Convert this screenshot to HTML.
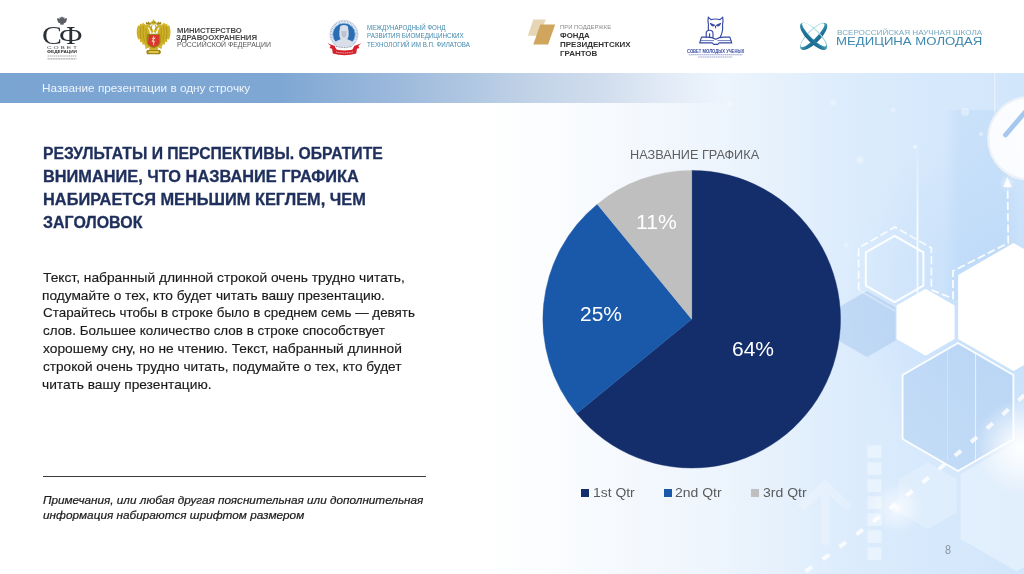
<!DOCTYPE html>
<html lang="ru"><head><meta charset="utf-8"><title>Slide 8</title>
<style>
html,body{margin:0;padding:0;background:#fff;}
body{width:1024px;height:574px;position:relative;overflow:hidden;font-family:"Liberation Sans",sans-serif;}
.t{position:absolute;white-space:nowrap;transform-origin:0 0;margin:0;padding:0;}
#bg{position:absolute;left:0;top:73px;width:1024px;height:501px;
 background:
  radial-gradient(ellipse 150px 175px at 995px 225px,rgba(186,217,249,.55) 0,rgba(190,219,249,.4) 45%,rgba(196,222,250,0) 100%),
  linear-gradient(90deg,#fff 0,#fff 480px,#fafcfe 560px,#f4f8fd 640px,#eef5fd 710px,#e8f2fc 760px,#dcecfc 850px,#d7e9fc 920px,#d2e6fb 1024px);}
#bar{position:absolute;left:0;top:73px;width:1024px;height:30px;
 background:linear-gradient(90deg,#7aa4d2 0,#7fa7d3 280px,#9dbadc 400px,#b0c7e2 470px,#c4d4e8 540px,rgba(203,217,236,.9) 600px,rgba(212,224,240,.6) 660px,rgba(225,235,247,0) 725px);}
#rule{position:absolute;left:43px;top:476px;width:383px;height:1px;background:#3a3a3a;}
svg{position:absolute;left:0;top:0;}
.lg{position:absolute;width:8px;height:8px;top:488.8px;}
</style></head><body>
<div id="bg"></div>
<!--DECOR0--><svg width="1024" height="574" viewBox="0 0 1024 574">
<defs>
<radialGradient id="fl"><stop offset="0" stop-color="#fff" stop-opacity=".95"/><stop offset=".25" stop-color="#fff" stop-opacity=".5"/><stop offset="1" stop-color="#fff" stop-opacity="0"/></radialGradient>
<linearGradient id="vl" x1="0" y1="0" x2="0" y2="1"><stop offset="0" stop-color="#fff" stop-opacity="0"/><stop offset=".5" stop-color="#fff" stop-opacity=".9"/><stop offset="1" stop-color="#fff" stop-opacity=".7"/></linearGradient>
<filter id="b1" x="-5%" y="-5%" width="110%" height="110%"><feGaussianBlur stdDeviation=".6"/></filter>
<linearGradient id="bandg" x1="0" y1="0" x2="1" y2="0"><stop offset="0" stop-color="#9fc6f3" stop-opacity="0"/><stop offset=".2" stop-color="#9fc6f3" stop-opacity=".2"/><stop offset=".8" stop-color="#9fc6f3" stop-opacity=".2"/><stop offset="1" stop-color="#9fc6f3" stop-opacity="0"/></linearGradient>
<radialGradient id="fl2"><stop offset="0" stop-color="#fff" stop-opacity=".95"/><stop offset=".35" stop-color="#fff" stop-opacity=".7"/><stop offset="1" stop-color="#fff" stop-opacity="0"/></radialGradient>
</defs>
<polygon points="1016.8,441.5 1073.1,474.0 1073.1,539.0 1016.8,571.5 960.5,539.0 960.5,474.0" fill="#fff" fill-opacity=".33"/>
<polygon points="927.8,462.3 956.8,479.1 956.8,512.5 927.8,529.3 898.8,512.5 898.8,479.1" fill="#fff" fill-opacity=".22"/>
<polygon points="867.0,291.0 895.6,307.5 895.6,340.5 867.0,357.0 838.4,340.5 838.4,307.5" fill="#a3c6ee" fill-opacity=".5"/>
<polygon points="958.0,343.0 1013.4,375.0 1013.4,439.0 958.0,471.0 902.6,439.0 902.6,375.0" fill="#a6c8ef" fill-opacity=".42" stroke="#fff" stroke-width="1.8" stroke-opacity=".95"/>
<rect x="916.6" y="140" width="1.8" height="170" fill="url(#vl)"/><rect x="944" y="110" width="76" height="190" fill="url(#bandg)"/>
<rect x="994.3" y="73" width="1" height="40" fill="#fff" fill-opacity=".6"/>
<rect x="975" y="352" width="1.1" height="108" fill="#fff" fill-opacity=".6"/><rect x="947" y="350" width="1" height="110" fill="#fff" fill-opacity=".25"/>
<polygon points="894.6,235.8 923.4,252.4 923.4,285.6 894.6,302.2 865.8,285.6 865.8,252.4" fill="none" stroke="#fff" stroke-width="2" stroke-opacity=".95"/>
<path d="M858.6 290.0 L858.6 248.0 L895.0 227.0 L931.4 248.0 L931.4 290.0" fill="none" stroke="#fff" stroke-width="1.7" stroke-opacity=".85" stroke-dasharray="8 3.2"/>
<path d="M858.6 290.0 L895.0 311.0" stroke="#fff" stroke-width="2" stroke-opacity=".35"/>
<path d="M931.4 290 L953 298.5 L953 271 L1008.2 243 L1007.6 186" fill="none" stroke="#fff" stroke-width="1.8" stroke-opacity=".9" stroke-dasharray="8 3.2"/>
<path d="M1003.3 187 L1007.4 177 L1011.5 187 Z" fill="#fff"/><circle cx="1007.4" cy="183" r="9" fill="url(#fl)" opacity=".7"/>
<polygon points="1013.5,243.0 1068.9,275.0 1068.9,339.0 1013.5,371.0 958.1,339.0 958.1,275.0" fill="#fff"/>
<polygon points="925.6,288.8 954.6,305.6 954.6,339.1 925.6,355.8 896.6,339.1 896.6,305.6" fill="#fff"/>
<circle cx="1029.6" cy="138.4" r="41.3" fill="#fff" fill-opacity=".9" stroke="#edf2f6" stroke-width="2.2"/>
<path d="M1005.5 135 L1026 111" stroke="#a6c7ee" stroke-width="4.8" stroke-linecap="round"/>
<rect x="867.5" y="445.4" width="14" height="12.5" fill="#fff" fill-opacity=".42"/>
<rect x="867.5" y="462.4" width="14" height="12.5" fill="#fff" fill-opacity=".42"/>
<rect x="867.5" y="479.4" width="14" height="12.5" fill="#fff" fill-opacity=".42"/>
<rect x="867.5" y="496.4" width="14" height="12.5" fill="#fff" fill-opacity=".42"/>
<rect x="867.5" y="513.4" width="14" height="12.5" fill="#fff" fill-opacity=".42"/>
<rect x="867.5" y="530.4" width="14" height="12.5" fill="#fff" fill-opacity=".42"/>
<rect x="867.5" y="547.4" width="14" height="12.5" fill="#fff" fill-opacity=".42"/>
<path d="M825 545 L825 490 M801 508 L825 485 L849 508" fill="none" stroke="#fff" stroke-width="8" stroke-opacity=".2"/>
<path d="M790 582.4 Q912.5 497.2 1030 390" fill="none" stroke="#fff" stroke-width="4" stroke-opacity=".8" stroke-dasharray="8 13" stroke-dashoffset="1.9" filter="url(#b1)"/>
<circle cx="897" cy="508" r="26" fill="url(#fl)"/>
<circle cx="1022" cy="447" r="48" fill="url(#fl2)"/>
<circle cx="965" cy="112" r="4" fill="#fff" fill-opacity="0.35"/>
<circle cx="860" cy="160" r="3.5" fill="#fff" fill-opacity="0.3"/>
<circle cx="893" cy="110" r="2.5" fill="#fff" fill-opacity="0.3"/>
<circle cx="833" cy="103" r="3" fill="#fff" fill-opacity="0.25"/>
<circle cx="915" cy="147" r="2" fill="#fff" fill-opacity="0.5"/>
<circle cx="981" cy="134" r="2" fill="#fff" fill-opacity="0.4"/>
<circle cx="730" cy="104" r="3" fill="#fff" fill-opacity="0.3"/>
<circle cx="846" cy="245" r="2.5" fill="#fff" fill-opacity="0.3"/>
</svg><!--DECOR1-->
<div id="bar"></div>
<!--LOGOS0--><svg width="1024" height="73" viewBox="0 0 1024 73">
<defs>
<linearGradient id="tg" x1="0" y1="0" x2="0" y2="1"><stop offset="0" stop-color="#b4dde2"/><stop offset=".5" stop-color="#3f98b2"/><stop offset=".75" stop-color="#1f7599"/><stop offset="1" stop-color="#1b668e"/></linearGradient>
</defs>
<g fill="#5b5f66"><path d="M62 16.2 l1 1.6 l1.4 -.9 l-.3 1.8 l2.6 -.6 q1 2.6 -1.2 4.6 l-1.6 .6 l-.6 1.6 l-1.3 -.4 l-1.3 .4 l-.6 -1.6 l-1.6 -.6 q-2.2 -2 -1.2 -4.6 l2.6 .6 l-.3 -1.8 l1.4 .9 z"/></g>
<path d="M47.5 56 H76.5" stroke="#8d8d8d" stroke-width="1.2" stroke-dasharray="1.6 .5" opacity=".75"/><path d="M47.5 58.8 H76.5" stroke="#8d8d8d" stroke-width="1.2" stroke-dasharray="2.1 .5" opacity=".7"/>
<g><path d="M149.6 31.5 C148.2 27.8 145.8 24.8 142.6 22.6 L142.2 24.6 L139.9 23.6 L139.9 25.8 L137.9 25.6 C136.3 29.6 136.2 35.200 138.2 39.6 L139.8 39 L140.200 42.200 L142 41.800 L142.600 44.800 L144.400 44.200 L145.400 46.900 L148.800 45 L150 40 Z" fill="#cfb128"/><path d="M141 26.5 q-2 6 .300 12.500 M143.600 26 q-1.800 7 .900 15.500 M146.200 27.500 q-1.200 7 1 15.500" stroke="#a08614" stroke-width=".75" fill="none" opacity=".8"/><path d="M151.800 33.500 C150.500 30.500 149.600 28.800 148.800 27.400 L145.200 27.900 L144.300 26.700 L146 25.300 C147.400 24.400 149.400 24.600 150.400 26 C151.600 27.600 153 30 153.600 31.500 Z" fill="#cfb128"/><path d="M145.700 24.600 l.500 -2.900 l1.300 1.100 l1.200 -1.300 l1.100 1.400 l1.100 -.700 l-.300 2.800 q-2.400 -.900 -4.900 -.400 z" fill="#a08614"/><path d="M148.600 44.600 l-3.600 3.200 l.800 1.200 l4.600 -2.200 z" fill="#cfb128"/><g transform="translate(307.2 0) scale(-1 1)"><path d="M149.6 31.5 C148.2 27.8 145.8 24.8 142.6 22.6 L142.2 24.6 L139.9 23.6 L139.9 25.8 L137.9 25.6 C136.3 29.6 136.2 35.200 138.2 39.6 L139.8 39 L140.200 42.200 L142 41.800 L142.600 44.800 L144.400 44.200 L145.400 46.900 L148.800 45 L150 40 Z" fill="#cfb128"/><path d="M141 26.5 q-2 6 .300 12.500 M143.600 26 q-1.800 7 .900 15.500 M146.200 27.500 q-1.200 7 1 15.500" stroke="#a08614" stroke-width=".75" fill="none" opacity=".8"/><path d="M151.800 33.500 C150.500 30.500 149.600 28.800 148.800 27.400 L145.200 27.900 L144.300 26.700 L146 25.300 C147.400 24.400 149.400 24.600 150.400 26 C151.600 27.600 153 30 153.600 31.500 Z" fill="#cfb128"/><path d="M145.700 24.600 l.500 -2.900 l1.300 1.100 l1.200 -1.300 l1.100 1.400 l1.100 -.700 l-.300 2.800 q-2.400 -.900 -4.900 -.400 z" fill="#a08614"/><path d="M148.600 44.600 l-3.600 3.200 l.800 1.200 l4.600 -2.200 z" fill="#cfb128"/></g><path d="M150.900 24.200 l.500 -2.700 l1.500 -1.100 l.700 -1.500 l.700 1.500 l1.500 1.100 l.500 2.700 q-2.700 .900 -5.400 0 z" fill="#cfb128"/><path d="M151.600 22.600 h4" stroke="#a08614" stroke-width=".7"/><path d="M152.200 25 q-1.800 2.200 -.600 4.600 M155 25 q1.800 2.200 .600 4.600" stroke="#a08614" stroke-width=".8" fill="none"/><path d="M150.200 46 q3.400 1.600 6.800 0 l1.400 3.600 q-4.800 1.800 -9.600 0 z" fill="#cfb128"/><path d="M147.200 50 h12.800 l1 2 l-1 2.200 h-12.800 l-1 -2.200 z" fill="#a08614"/><rect x="148.600" y="51" width="10" height="2" fill="#e0c84c"/><path d="M147.900 33.800 h11.400 q1 0 1 1 v7.600 q0 4 -6.700 5.800 q-6.700 -1.800 -6.700 -5.800 v-7.600 q0 -1 1 -1 z" fill="#a08614"/><path d="M149 35 h10.200 v7.300 q0 3.100 -5.600 4.700 q-5.600 -1.600 -5.600 -4.700 z" fill="#d8382b"/><path d="M153.600 36.200 v9 M152 38 q1.600 1.800 3.200 0 q-3.200 1.600 -3.200 3.400 q1.600 1.600 3.200 0" stroke="#f3d7c3" stroke-width=".9" fill="none"/></g>
<g><circle cx="344" cy="34.4" r="14.2" fill="#fff" stroke="#aebbd2" stroke-width=".5"/><circle cx="344" cy="34.4" r="13" fill="none" stroke="#8f9fbe" stroke-width="1.5" stroke-dasharray=".9 .7" opacity=".8"/><circle cx="344" cy="34.4" r="11.4" fill="#2b6db3" stroke="#9cc4ec" stroke-width="1"/><path d="M340.2 26.200 q3.800 -2.200 7.600 0 l.8 5 q.6 4.500 -1.200 8 l3.600 1.600 q2 1 2.400 3.200 q-9.400 4.500 -18.800 0 q.4 -2.200 2.400 -3.200 l3.600 -1.600 q-1.800 -3.500 -1.200 -8 z" fill="#d9dfe8"/><path d="M341.500 30.500 q2.500 1.500 5 0 v5 q-2.500 4.500 -5 0 z" fill="#b9c3d1"/><path d="M327.600 43.300 l7.200 2.600 l2.200 4.600 l-7.300 -2.600 l.9 -2.200 z" fill="#d3222c"/><path d="M361.400 43.300 l-7.200 2.600 l-2.200 4.600 l7.300 -2.600 l-.9 -2.200 z" fill="#d3222c"/><path d="M335.500 45.600 q8.500 2.200 17 0 v2.400 q-8.500 2.200 -17 0 z" fill="#fff"/><path d="M336 46.300 q8 2 16 0" stroke="#56627a" stroke-width=".9" fill="none" stroke-dasharray="1 .6"/><path d="M332 48.600 q12.500 3.800 25 0 l-.8 5 q-11.700 3.400 -23.400 0 z" fill="#d3222c"/><path d="M336 52 q8.500 2 17 0" stroke="#f3c4c6" stroke-width=".9" fill="none" stroke-dasharray="1.200 .6"/></g>
<polygon points="533.3,19.4 545.8,19.4 539.6,35.8 527.8,35.8" fill="#e6d6b6"/><polygon points="540.3,24.4 555.2,24.4 548.1,44.4 533.3,44.4" fill="#d0a55e"/>
<g fill="none" stroke="#3548a2" stroke-width="1.15" stroke-linejoin="round" stroke-linecap="round"><path d="M708.3 17.2 l2.600 2.400 q4.600 -1.200 9.200 0 l2.600 -2.400 q.8 4 -.2 7.600 q.9 6.500 -2.300 12.300 M708.300 17.200 q-.8 4 .2 7.600 q-.3 2.800 -.2 5"/><path d="M710.500 23.400 l4 1.800 q-2 2.200 -4 -1.800 z M720.500 23.400 l-4 1.800 q2 2.200 4 -1.800 z" fill="#3548a2" fill-opacity=".6"/><path d="M715.500 26 v1.800"/><path d="M706.200 37.400 v-4 q0 -3.200 3.400 -3.200 q3.400 0 3.400 3.200 v4"/><path d="M709.600 33.800 v3"/><path d="M715.700 39.300 q-3.500 -2.200 -8 -2.200 h-6.200 l-1.800 5.800 h12.500 l1.500 1.500 h4 l1.500 -1.500 h12.500 l-1.800 -5.800 h-6.200 q-4.500 0 -8 2.200 z"/><path d="M700.600 40.600 h13 M717.800 40.600 h13" stroke-width=".7"/></g>
<path d="M688.7 54.700 H742.500" stroke="#3548a2" stroke-width="1.100" stroke-dasharray="1.500 .400" opacity=".5"/><path d="M698.300 57 H732.300" stroke="#3548a2" stroke-width="1.100" stroke-dasharray="1.800 .400" opacity=".45"/>
<g transform="translate(813.65 36.3) rotate(-45)"><path fill-rule="evenodd" fill="url(#tg)" d="M-18 0 a18 6.7 0 1 0 36 0 a18 6.7 0 1 0 -36 0 z M-16.3 -1.55 a16.3 4.1 0 1 0 32.6 0 a16.3 4.1 0 1 0 -32.6 0 z"/></g>
<g transform="translate(813.65 36.3) rotate(45)"><path fill-rule="evenodd" fill="url(#tg)" d="M-18 0 a18 6.7 0 1 0 36 0 a18 6.7 0 1 0 -36 0 z M-17.2 -1.55 a16.3 4.1 0 1 0 32.6 0 a16.3 4.1 0 1 0 -32.6 0 z"/></g>
</svg><!--LOGOS1-->
<svg width="1024" height="574" viewBox="0 0 1024 574">
<path d="M691.7 319.2L691.70 170.40A148.8 148.8 0 1 1 576.68 413.60Z" fill="#132e6b" stroke="#132e6b" stroke-width="0.4"/>
<path d="M691.7 319.2L576.68 413.60A148.8 148.8 0 0 1 597.30 204.18Z" fill="#1a59a9" stroke="#1a59a9" stroke-width="0.4"/>
<path d="M691.7 319.2L597.30 204.18A148.8 148.8 0 0 1 691.70 170.40Z" fill="#bfbfbf" stroke="#bfbfbf" stroke-width="0.4"/>
</svg>
<div id="rule"></div>
<div class="lg" style="left:581.4px;background:#132e6b"></div>
<div class="lg" style="left:664px;background:#1a59a9"></div>
<div class="lg" style="left:751px;background:#bfbfbf"></div>
<div class="t" style="left:41.80px;top:81.97px;font:normal 400 11.3px/normal 'Liberation Sans', sans-serif;color:#eef4fb;transform:scaleX(1.0424);">Название презентации в одну строчку</div>
<div class="t" style="left:42.74px;top:145.28px;font:normal 700 15.6px/normal 'Liberation Sans', sans-serif;color:#1f2f5c;transform:scaleX(1.0076);-webkit-text-stroke:.3px #1f2f5c;">РЕЗУЛЬТАТЫ И ПЕРСПЕКТИВЫ. ОБРАТИТЕ</div>
<div class="t" style="left:42.71px;top:168.18px;font:normal 700 15.6px/normal 'Liberation Sans', sans-serif;color:#1f2f5c;transform:scaleX(1.0479);-webkit-text-stroke:.3px #1f2f5c;">ВНИМАНИЕ, ЧТО НАЗВАНИЕ ГРАФИКА</div>
<div class="t" style="left:42.70px;top:190.98px;font:normal 700 15.6px/normal 'Liberation Sans', sans-serif;color:#1f2f5c;transform:scaleX(1.0491);-webkit-text-stroke:.3px #1f2f5c;">НАБИРАЕТСЯ МЕНЬШИМ КЕГЛЕМ, ЧЕМ</div>
<div class="t" style="left:43.03px;top:213.78px;font:normal 700 15.6px/normal 'Liberation Sans', sans-serif;color:#1f2f5c;transform:scaleX(1.0249);-webkit-text-stroke:.3px #1f2f5c;">ЗАГОЛОВОК</div>
<div class="t" style="left:43.20px;top:269.78px;font:normal 400 13.5px/normal 'Liberation Sans', sans-serif;color:#1a1a1a;transform:scaleX(1.0202);-webkit-text-stroke:.15px #1a1a1a;">Текст, набранный длинной строкой очень трудно читать,</div>
<div class="t" style="left:41.60px;top:287.58px;font:normal 400 13.5px/normal 'Liberation Sans', sans-serif;color:#1a1a1a;transform:scaleX(1.0151);-webkit-text-stroke:.15px #1a1a1a;">подумайте о тех, кто будет читать вашу презентацию.</div>
<div class="t" style="left:42.68px;top:305.38px;font:normal 400 13.5px/normal 'Liberation Sans', sans-serif;color:#1a1a1a;transform:scaleX(0.9936);-webkit-text-stroke:.15px #1a1a1a;">Старайтесь чтобы в строке было в среднем семь — девять</div>
<div class="t" style="left:42.83px;top:323.18px;font:normal 400 13.5px/normal 'Liberation Sans', sans-serif;color:#1a1a1a;transform:scaleX(0.9924);-webkit-text-stroke:.15px #1a1a1a;">слов. Большее количество слов в строке способствует</div>
<div class="t" style="left:42.98px;top:340.98px;font:normal 400 13.5px/normal 'Liberation Sans', sans-serif;color:#1a1a1a;transform:scaleX(1.0195);-webkit-text-stroke:.15px #1a1a1a;">хорошему сну, но не чтению. Текст, набранный длинной</div>
<div class="t" style="left:42.82px;top:358.78px;font:normal 400 13.5px/normal 'Liberation Sans', sans-serif;color:#1a1a1a;transform:scaleX(1.0088);-webkit-text-stroke:.15px #1a1a1a;">строкой очень трудно читать, подумайте о тех, кто будет</div>
<div class="t" style="left:41.60px;top:376.58px;font:normal 400 13.5px/normal 'Liberation Sans', sans-serif;color:#1a1a1a;transform:scaleX(1.0190);-webkit-text-stroke:.15px #1a1a1a;">читать вашу презентацию.</div>
<div class="t" style="left:43.26px;top:493.56px;font:italic 400 11.2px/normal 'Liberation Sans', sans-serif;color:#1a1a1a;transform:scaleX(1.0488);-webkit-text-stroke:.2px #1a1a1a;">Примечания, или любая другая пояснительная или дополнительная</div>
<div class="t" style="left:43.17px;top:508.76px;font:italic 400 11.2px/normal 'Liberation Sans', sans-serif;color:#1a1a1a;transform:scaleX(1.0537);-webkit-text-stroke:.2px #1a1a1a;">информация набираются шрифтом размером</div>
<div class="t" style="left:630.35px;top:147.94px;font:normal 400 12.0px/normal 'Liberation Sans', sans-serif;color:#5f5f5f;transform:scaleX(1.0576);">НАЗВАНИЕ ГРАФИКА</div>
<div class="t" style="left:636.40px;top:211.40px;font:normal 400 20px/normal 'Liberation Sans', sans-serif;color:#fff;transform:scaleX(1.0573);">11%</div>
<div class="t" style="left:580.17px;top:303.20px;font:normal 400 20px/normal 'Liberation Sans', sans-serif;color:#fff;transform:scaleX(1.0476);">25%</div>
<div class="t" style="left:731.50px;top:337.70px;font:normal 400 20px/normal 'Liberation Sans', sans-serif;color:#fff;transform:scaleX(1.0493);">64%</div>
<div class="t" style="left:593.33px;top:484.84px;font:normal 400 13px/normal 'Liberation Sans', sans-serif;color:#5a5a5a;transform:scaleX(1.0701);">1st Qtr</div>
<div class="t" style="left:675.40px;top:484.84px;font:normal 400 13px/normal 'Liberation Sans', sans-serif;color:#5a5a5a;transform:scaleX(1.0750);">2nd Qtr</div>
<div class="t" style="left:762.80px;top:484.84px;font:normal 400 13px/normal 'Liberation Sans', sans-serif;color:#5a5a5a;transform:scaleX(1.0789);">3rd Qtr</div>
<div class="t" style="left:945.29px;top:542.54px;font:normal 400 12px/normal 'Liberation Sans', sans-serif;color:#8a93a0;transform:scaleX(0.8972);">8</div>
<div class="t" style="left:42.05px;top:21.33px;font:normal 400 26px/normal 'Liberation Serif', serif;color:#2b3036;transform:scaleX(1.1479);letter-spacing:-2.5px;">СФ</div>
<div class="t" style="left:46.81px;top:46.40px;font:normal 400 3.2px/normal 'Liberation Sans', sans-serif;color:#444;transform:scaleX(2.0645);">С О В Е Т</div>
<div class="t" style="left:46.77px;top:50.30px;font:normal 700 3.2px/normal 'Liberation Sans', sans-serif;color:#333;transform:scaleX(1.4769);">ФЕДЕРАЦИИ</div>
<div class="t" style="left:176.66px;top:27.43px;font:normal 700 6.6px/normal 'Liberation Sans', sans-serif;color:#4a4a4a;transform:scaleX(1.1709);">МИНИСТЕРСТВО</div>
<div class="t" style="left:176.45px;top:33.83px;font:normal 700 6.6px/normal 'Liberation Sans', sans-serif;color:#4a4a4a;transform:scaleX(1.1849);">ЗДРАВООХРАНЕНИЯ</div>
<div class="t" style="left:176.60px;top:40.55px;font:normal 400 6.8px/normal 'Liberation Sans', sans-serif;color:#555;transform:scaleX(1.0161);">РОССИЙСКОЙ ФЕДЕРАЦИИ</div>
<div class="t" style="left:366.78px;top:24.03px;font:normal 400 6.6px/normal 'Liberation Sans', sans-serif;color:#3f88ad;transform:scaleX(0.9332);">МЕЖДУНАРОДНЫЙ ФОНД</div>
<div class="t" style="left:366.75px;top:32.23px;font:normal 400 6.6px/normal 'Liberation Sans', sans-serif;color:#3f88ad;transform:scaleX(0.9472);">РАЗВИТИЯ БИОМЕДИЦИНСКИХ</div>
<div class="t" style="left:366.66px;top:40.73px;font:normal 400 6.6px/normal 'Liberation Sans', sans-serif;color:#3f88ad;transform:scaleX(0.9429);">ТЕХНОЛОГИЙ ИМ В.П. ФИЛАТОВА</div>
<div class="t" style="left:559.63px;top:23.88px;font:normal 400 5.0px/normal 'Liberation Sans', sans-serif;color:#8c8c8c;transform:scaleX(1.1734);">ПРИ ПОДДЕРЖКЕ</div>
<div class="t" style="left:559.69px;top:31.83px;font:normal 700 6.6px/normal 'Liberation Sans', sans-serif;color:#333;transform:scaleX(1.1856);">ФОНДА</div>
<div class="t" style="left:560.42px;top:40.73px;font:normal 700 6.6px/normal 'Liberation Sans', sans-serif;color:#333;transform:scaleX(1.2138);">ПРЕЗИДЕНТСКИХ</div>
<div class="t" style="left:560.42px;top:49.63px;font:normal 700 6.6px/normal 'Liberation Sans', sans-serif;color:#333;transform:scaleX(1.2095);">ГРАНТОВ</div>
<div class="t" style="left:686.55px;top:48.63px;font:normal 700 4.5px/normal 'Liberation Sans', sans-serif;color:#3548a2;transform:scaleX(0.9210);">СОВЕТ МОЛОДЫХ УЧЕНЫХ</div>
<div class="t" style="left:837.26px;top:27.50px;font:normal 400 7.4px/normal 'Liberation Sans', sans-serif;color:#78a9c0;transform:scaleX(1.0960);">ВСЕРОССИЙСКАЯ НАУЧНАЯ ШКОЛА</div>
<div class="t" style="left:836.11px;top:35.04px;font:normal 400 10.9px/normal 'Liberation Sans', sans-serif;color:#3d87ad;transform:scaleX(1.2094);">МЕДИЦИНА МОЛОДАЯ</div>
</body></html>
